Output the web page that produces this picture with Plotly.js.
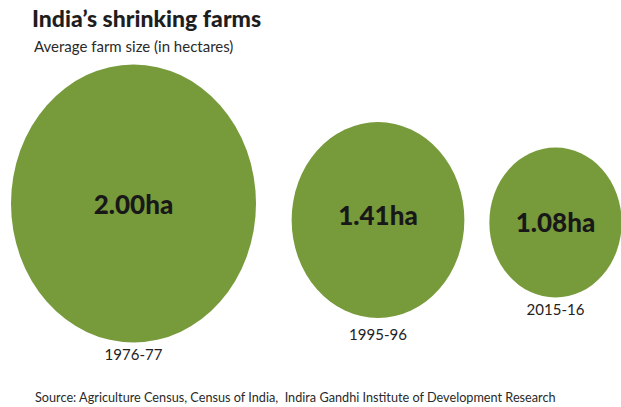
<!DOCTYPE html>
<html><head><meta charset="utf-8">
<script src="https://cdn.plot.ly/plotly-3.0.1.min.js"></script>
<style>html,body{margin:0;padding:0;background:#fff}</style>
</head><body>
<div id="chart" style="width:621px;height:407px"></div>
<script>
// Data
const periods = ["1976-77", "1995-96", "2015-16"];
const farmSize = [2.00, 1.41, 1.08];
const unit = "ha";

// Layout (pixel-like coordinate system)
const centersX = [133.5, 378, 555.5];
const centersY = [203.5, 220, 222.5];
const pxPerHaX = 122.5, pxPerHaY = 139;
const labelOffset = [11, 15, 11];
const green = "#779a3b";
const FONT = "Lato, 'Open Sans', sans-serif";

const shapes = farmSize.map((v, i) => ({
  type: "circle", xref: "x", yref: "y", layer: "below",
  x0: centersX[i] - v * pxPerHaX / 2, x1: centersX[i] + v * pxPerHaX / 2,
  y0: centersY[i] - v * pxPerHaY / 2, y1: centersY[i] + v * pxPerHaY / 2,
  fillcolor: green, line: {width: 0}
}));

const valueTrace = {
  type: "scatter", mode: "text",
  x: centersX, y: centersY.map((c, i) => c + [4, -2, 3][i]),
  text: farmSize.map(v => v.toFixed(2) + unit),
  textfont: {family: FONT, size: 26, color: "#181818", weight: 900},
  hoverinfo: "skip", showlegend: false
};
const yearTrace = {
  type: "scatter", mode: "text",
  x: centersX,
  y: farmSize.map((v, i) => centersY[i] + v * pxPerHaY / 2 + labelOffset[i] + 3),
  text: periods,
  textfont: {family: FONT, size: 15, color: "#222"},
  hoverinfo: "skip", showlegend: false
};

const layout = {
  width: 621, height: 407,
  margin: {l: 0, r: 0, t: 0, b: 0},
  paper_bgcolor: "#fff", plot_bgcolor: "#fff",
  xaxis: {range: [0, 621], visible: false, fixedrange: true},
  yaxis: {range: [407, 0], visible: false, fixedrange: true},
  shapes: shapes,
  title: {text: "India’s shrinking farms", x: 32 / 621, xanchor: "left", xref: "paper",
          y: 1 - 19 / 407, yanchor: "middle", yref: "paper",
          font: {family: FONT, size: 23, color: "#1e1e1e", weight: 900}},
  annotations: [
    {text: "Average farm size (in hectares)", xref: "paper", yref: "paper",
     x: 32 / 621, y: 1 - 46 / 407, xanchor: "left", yanchor: "middle", showarrow: false,
     font: {family: FONT, size: 15, color: "#2a2a2a"}},
    {text: "Source: Agriculture Census, Census of India,  Indira Gandhi Institute of Development Research",
     xref: "paper", yref: "paper", x: 33 / 621, y: 1 - 397 / 407, xanchor: "left", yanchor: "middle",
     showarrow: false, font: {family: FONT, size: 12.7, color: "#2a2a2a"}}
  ]
};

Plotly.newPlot("chart", [valueTrace, yearTrace], layout, {displayModeBar: false, staticPlot: true});
</script>
</body></html>
